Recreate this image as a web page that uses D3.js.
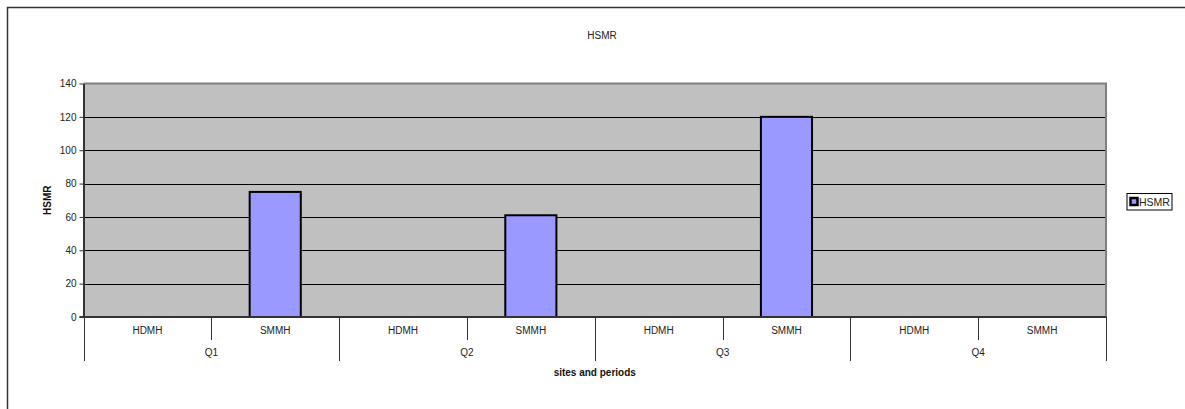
<!DOCTYPE html>
<html>
<head>
<meta charset="utf-8">
<script src="https://cdn.jsdelivr.net/npm/d3@7"></script>
<style>
  html, body { margin: 0; padding: 0; background: #fff; }
  svg { display: block; font-family: "Liberation Sans", Arial, sans-serif; }
</style>
</head>
<body>
<svg id="chart" width="1185" height="409"></svg>
<script>
// Quarter groups and the sites within each quarter
const quarters = ["Q1", "Q2", "Q3", "Q4"];
const sites = ["HDMH", "SMMH"];
// HSMR per quarter, in site order (null = no value reported)
const hsmrHDMH = [null, null, null, null];
const hsmrSMMH = [75, 61, 120, null];
const yTicks = [0, 20, 40, 60, 80, 100, 120, 140];

const rows = [];
quarters.forEach((q, i) => {
  rows.push({ quarter: q, site: "HDMH", key: q + "|HDMH", value: hsmrHDMH[i] });
  rows.push({ quarter: q, site: "SMMH", key: q + "|SMMH", value: hsmrSMMH[i] });
});

const svg = d3.select("#chart");
const plot = { left: 83.5, top: 83.5, right: 1106, bottom: 317 };

// Outer chart frame (runs past the right and bottom edges)
svg.append("rect")
  .attr("x", 7.5).attr("y", 7.5)
  .attr("width", 1300).attr("height", 500)
  .attr("fill", "#fff").attr("stroke", "#333").attr("stroke-width", 1.5);

const x = d3.scaleBand()
  .domain(rows.map(d => d.key))
  .range([plot.left, plot.right])
  .paddingInner(0).paddingOuter(0);

const y = d3.scaleLinear().domain([0, 140]).range([plot.bottom, plot.top]);

// Plot background
svg.append("rect")
  .attr("x", plot.left).attr("y", plot.top)
  .attr("width", plot.right - plot.left).attr("height", plot.bottom - plot.top)
  .attr("fill", "#c0c0c0");

// Horizontal gridlines
svg.append("g")
  .selectAll("line")
  .data(yTicks.filter(t => t > 0 && t < 140))
  .join("line")
  .attr("x1", plot.left).attr("x2", plot.right)
  .attr("y1", d => Math.round(y(d)) + 0.5).attr("y2", d => Math.round(y(d)) + 0.5)
  .attr("stroke", "#000").attr("stroke-width", 1);

// Top and right frame of the plot area
svg.append("path")
  .attr("d", `M${plot.left},${plot.top} H${plot.right} V${plot.bottom}`)
  .attr("fill", "none").attr("stroke", "#808080").attr("stroke-width", 2);

// Bars
svg.append("g")
  .selectAll("rect")
  .data(rows.filter(d => d.value != null))
  .join("rect")
  .attr("x", d => x(d.key) + x.bandwidth() * 0.3)
  .attr("width", x.bandwidth() * 0.4)
  .attr("y", d => y(d.value))
  .attr("height", d => y(0) - y(d.value))
  .attr("fill", "#9999ff")
  .attr("stroke", "#000").attr("stroke-width", 2);

// Y axis
const yAxis = svg.append("g")
  .attr("transform", `translate(${plot.left},0)`)
  .call(d3.axisLeft(y).tickValues(yTicks).tickSize(4).tickSizeOuter(0).tickPadding(3));
yAxis.select(".domain").attr("stroke", "#333").attr("stroke-width", 2);
yAxis.selectAll(".tick line").attr("stroke", "#333");
yAxis.selectAll("text").attr("font-size", 10).attr("fill", "#222")
  .attr("font-family", "Liberation Sans, Arial, sans-serif");

// X axis baseline
svg.append("line")
  .attr("x1", plot.left - 4).attr("x2", plot.right)
  .attr("y1", plot.bottom).attr("y2", plot.bottom)
  .attr("stroke", "#333").attr("stroke-width", 2);

// Site separators (short) and quarter separators (long)
const boundaries = d3.range(rows.length + 1).map(i => ({
  i,
  xpos: i < rows.length ? x(rows[i].key) : plot.right,
  long: i % sites.length === 0
}));
svg.append("g")
  .selectAll("line")
  .data(boundaries)
  .join("line")
  .attr("x1", d => Math.round(d.xpos) + 0.5).attr("x2", d => Math.round(d.xpos) + 0.5)
  .attr("y1", plot.bottom)
  .attr("y2", d => d.long ? 361 : 340)
  .attr("stroke", "#333").attr("stroke-width", 1);

// Site labels
svg.append("g")
  .selectAll("text")
  .data(rows)
  .join("text")
  .attr("x", d => x(d.key) + x.bandwidth() / 2)
  .attr("y", 334)
  .attr("text-anchor", "middle")
  .attr("font-size", 10).attr("fill", "#222")
  .text(d => d.site);

// Quarter labels
svg.append("g")
  .selectAll("text")
  .data(quarters)
  .join("text")
  .attr("x", q => x(q + "|" + sites[sites.length - 1]))
  .attr("y", 356)
  .attr("text-anchor", "middle")
  .attr("font-size", 10).attr("fill", "#222")
  .text(q => q);

// Titles
svg.append("text")
  .attr("x", 602).attr("y", 39)
  .attr("text-anchor", "middle")
  .attr("font-size", 10).attr("fill", "#222")
  .text("HSMR");

svg.append("text")
  .attr("x", (plot.left + plot.right) / 2).attr("y", 376)
  .attr("text-anchor", "middle")
  .attr("font-size", 10).attr("font-weight", "bold").attr("fill", "#111")
  .text("sites and periods");

svg.append("text")
  .attr("transform", `translate(51,${(plot.top + plot.bottom) / 2}) rotate(-90)`)
  .attr("text-anchor", "middle")
  .attr("font-size", 10).attr("font-weight", "bold").attr("fill", "#111")
  .text("HSMR");

// Legend
const legend = svg.append("g").attr("transform", "translate(1127,193.5)");
legend.append("rect")
  .attr("width", 45).attr("height", 16.5)
  .attr("fill", "#fff").attr("stroke", "#000").attr("stroke-width", 1);
legend.append("rect")
  .attr("x", 3.5).attr("y", 4.5).attr("width", 7).attr("height", 7)
  .attr("fill", "#9999ff").attr("stroke", "#000").attr("stroke-width", 2.5);
legend.append("text")
  .attr("x", 12).attr("y", 12)
  .attr("font-size", 10.5).attr("fill", "#222")
  .text("HSMR");
</script>
</body>
</html>
